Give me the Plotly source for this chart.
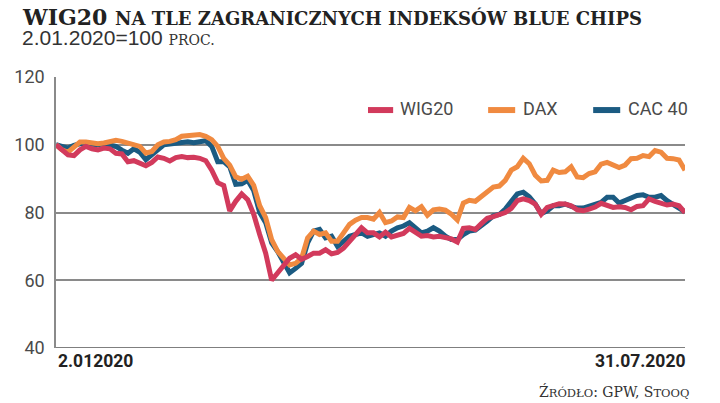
import plotly.graph_objects as go
import pandas as pd

# notowania co 2 dni kalendarzowe, 2.01.2020 = 100
daty = pd.date_range("2020-01-02", periods=106, freq="2D")

wig20 = [100, 98.5, 97, 96.8, 98.5, 99.5, 98.8, 98.5, 99, 98.8,
         97.5, 97.3, 95, 95.3, 94.5, 93.8, 94.8, 96.4, 96, 95.2,
         96.2, 96.5, 96.2, 96.3, 96, 95.3, 92.5, 88.8, 88, 80.5,
         83.3, 85.5, 83.8, 79.5, 73.5, 68, 60, 62, 64.5, 66.5,
         67.5, 66.2, 67, 68, 68, 69, 67.8, 68.2, 69.5, 71.5,
         74, 75.5, 74, 74, 72.8, 74.2, 72.8, 73.2, 73.8, 75.3,
         74, 73, 73.2, 72.8, 73, 72.5, 72.2, 71.3, 75.3, 75.5,
         75, 76.7, 78.3, 78.8, 79.5, 80, 81.2, 83.5, 84, 83.5,
         82.5, 79.5, 81.5, 82, 82.6, 82.5, 82, 80.8, 80.5, 81,
         81.6, 82.7, 82, 81.5, 81.7, 81.5, 80.8, 81.8, 82, 84,
         83.3, 82.7, 82.2, 82.5, 82, 80]

dax = [100, 98.5, 97.8, 99.5, 100.8, 100.8, 100.5, 100.3, 100.5, 101,
       101.3, 101, 100.5, 100, 99.5, 97.5, 98, 100, 100.8, 101,
       101.5, 102.5, 102.7, 102.7, 103, 102.5, 101.5, 99.5, 96, 94,
       90.5, 89.8, 90.7, 88, 82, 78.5, 72, 68.5, 66.5, 64.5,
       65, 66.5, 72.5, 74.5, 73.5, 74, 71.5, 71.5, 74, 76.5,
       77.7, 78.5, 78.5, 78, 80, 77, 77.5, 78.7, 78.5, 81.5,
       80.5, 81.7, 79.2, 80.8, 81, 80.7, 79.5, 77.8, 82.8, 83.6,
       83.3, 84.8, 86.2, 87.5, 87.8, 89.5, 92.5, 93.5, 96, 94.4,
       91, 89.3, 89.5, 92.5, 91.8, 92, 93.5, 90.5, 90.3, 91.5,
       92, 94.3, 94.8, 94, 93.3, 94, 95.9, 96, 96.8, 96.5,
       98.3, 97.8, 96, 95.9, 95.5, 92.5]

cac40 = [100, 99.5, 99, 99.8, 100.3, 100.3, 100.1, 100, 100.3, 100,
         99.5, 98.4, 97.5, 98.8, 97.8, 95.6, 97, 98.8, 100, 100.2,
         100.5, 100.8, 100.9, 100.6, 100.9, 101.2, 99.5, 95, 95, 93.5,
         88.3, 88.5, 89.5, 86.5, 80, 77, 71, 68.5, 65.3, 62.2,
         63.5, 65, 71, 74.5, 75, 72.5, 73, 70, 71.5, 73,
         73.5, 74, 73, 73.5, 74, 73, 74.5, 75.5, 76, 77,
         75.5, 74, 74.5, 75.5, 74.5, 73, 72, 72, 73.5, 74.5,
         74.8, 76, 77.5, 79, 79.4, 81, 83, 85.5, 86, 84.6,
         82.5, 79.7, 80.5, 82, 82, 82.5, 81.8, 81.3, 81.3, 81.8,
         82.3, 83, 84.5, 84.5, 82.8, 83.5, 84.2, 85, 85.2, 84.5,
         84.5, 85, 83.5, 82.5, 81.5, 80.2]

y_ticks = [40, 60, 80, 100, 120]

KOLORY = {"WIG20": "#d23a5c", "DAX": "#f08a40", "CAC 40": "#1b5b82"}
FONT_OS = "Roboto, Liberation Sans, sans-serif"
FONT_TYT = "DejaVu Serif, Liberation Serif, serif"

fig = go.Figure()

# kolejnosc rysowania: CAC pod spodem, WIG20 na wierzchu
for nazwa, dane in [("CAC 40", cac40), ("DAX", dax), ("WIG20", wig20)]:
    fig.add_trace(go.Scatter(
        x=daty, y=dane, mode="lines", name=nazwa, showlegend=False,
        line=dict(color=KOLORY[nazwa], width=5),
    ))

fig.update_layout(
    width=720, height=403,
    paper_bgcolor="white", plot_bgcolor="white",
    margin=dict(l=56, r=35, t=77, b=55),
    font=dict(family=FONT_OS, color="#4a4a4a", size=18),
    xaxis=dict(
        range=[daty[0], daty[-1]], showgrid=False, zeroline=False,
        showticklabels=False, showline=False,
    ),
    yaxis=dict(
        range=[40, 120], tickvals=y_ticks, showgrid=True,
        gridcolor="#8a8a8a", gridwidth=1.5, zeroline=False,
        showline=True, linecolor="#8a8a8a", linewidth=1.5,
        ticks="", ticklabelstandoff=6,
    ),
)

# linia bazowa na poziomie 40
fig.add_hline(y=40, line=dict(color="#555", width=1.5), layer="below")

# legenda reczna (poziomo, prawy gorny rog)
legenda = [("WIG20", 0.496, 0.536, 0.543), ("DAX", 0.687, 0.730, 0.739), ("CAC 40", 0.854, 0.897, 0.906)]
for nazwa, x0, x1, xt in legenda:
    fig.add_shape(type="line", xref="paper", yref="paper", x0=x0, x1=x1, y0=0.878, y1=0.878,
                  line=dict(color=KOLORY[nazwa], width=6))
    fig.add_annotation(xref="paper", yref="paper", x=xt, y=0.882, xanchor="left", yanchor="middle",
                       text=nazwa, showarrow=False, font=dict(size=18, color="#4a4a4a"))

fig.add_annotation(
    xref="paper", yref="paper", x=-0.057, y=1.221, xanchor="left", yanchor="middle",
    text="<b>WIG20 <span style='font-size:18px'>NA TLE ZAGRANICZNYCH INDEKSÓW BLUE CHIPS</span></b>",
    showarrow=False, font=dict(family=FONT_TYT, size=22, color="#222"),
)
fig.add_annotation(
    xref="paper", yref="paper", x=-0.057, y=1.144, xanchor="left", yanchor="middle",
    text="2.01.2020=100 <span style='font-family:DejaVu Serif;font-size:14px'>PROC.</span>",
    showarrow=False, font=dict(family="Liberation Sans, sans-serif", size=21, color="#333"),
)
fig.add_annotation(
    xref="paper", yref="paper", x=0.0, y=-0.048, xanchor="left", yanchor="middle",
    text="<b>2.012020</b>", showarrow=False,
    font=dict(family=FONT_OS, size=17.5, color="#222"),
)
fig.add_annotation(
    xref="paper", yref="paper", x=1.003, y=-0.048, xanchor="right", yanchor="middle",
    text="<b>31.07.2020</b>", showarrow=False,
    font=dict(family=FONT_OS, size=17.5, color="#222"),
)
fig.add_annotation(
    xref="paper", yref="paper", x=1.01, y=-0.162, xanchor="right", yanchor="middle",
    text="Ź<span style='font-size:11.5px'>RÓDŁO</span>: GPW, S<span style='font-size:11.5px'>TOOQ</span>",
    showarrow=False, font=dict(family=FONT_TYT, size=14, color="#333"),
)

# bez domyslnego marginesu body, zeby wykres wypelnil cale okno
fig.write_html("out.html", config={"displayModeBar": False},
               post_script="document.body.style.margin='0';")
